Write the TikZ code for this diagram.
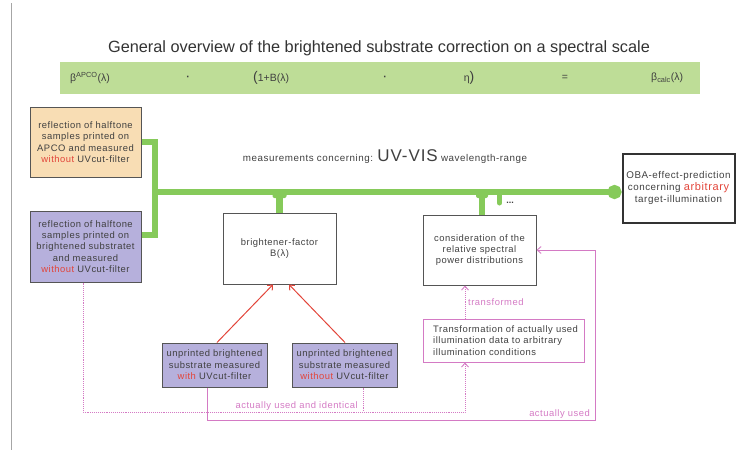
\documentclass[tikz,border=0pt]{standalone}
\usepackage{fontspec}
\setmainfont{Liberation Sans}
\newfontfamily\lsfont{Liberation Sans}[LetterSpace=5.5]
\usetikzlibrary{arrows.meta,calc}
\definecolor{txt}{HTML}{404040}
\definecolor{gbar}{HTML}{BEDD97}
\definecolor{gline}{HTML}{86CA5A}
\definecolor{orfill}{HTML}{F8DDB4}
\definecolor{pufill}{HTML}{B6B0DC}
\definecolor{bord}{HTML}{555555}
\definecolor{pinkc}{HTML}{D47AC4}
\definecolor{redc}{HTML}{E2453A}
\begin{document}
\begin{tikzpicture}[x=1pt,y=-1pt,
  every node/.style={text=txt, font=\lsfont\fontsize{9.4}{11.4}\selectfont, inner sep=0pt},
  box/.style={draw=bord, line width=1pt, align=center},
  gconn/.style={draw=gline, line width=6pt},
  redarr/.style={draw=redc, line width=1pt, -{Straight Barb[length=4pt,width=7pt]}},
  pinkdot/.style={draw=pinkc, line width=0.9pt, densely dotted},
  pinksolid/.style={draw=pinkc, line width=0.9pt},
  ptip/.style={-{Straight Barb[length=4pt,width=7pt]}},
  plabel/.style={text=pinkc, font=\lsfont\fontsize{9.4}{11}\selectfont}]
\useasboundingbox (0,0) rectangle (746,450);
\draw[gray!70, line width=1pt] (11,3) -- (11,450);

\node[font=\fontsize{16.3}{18}\selectfont, text=black!80] (title) at (379,48)
  {General overview of the brightened substrate correction on a spectral scale};

\fill[gbar] (60,62) rectangle (700,94);
\begin{scope}[every node/.style={text=txt, font=\fontsize{10.5}{12}\selectfont, inner sep=0pt}]
\node[anchor=west] (f1) at (70,78) {β\textsuperscript{APCO}(λ)};
\node (f2) at (188,78) {\textbf{·}};
\node[anchor=west] (f3) at (253,78) {{\fontsize{14}{14}\selectfont(}1+B(λ)};
\node (f4) at (385,78) {\textbf{·}};
\node (f5) at (469,78) {η{\fontsize{14}{14}\selectfont)}};
\node (f6) at (565,78) {=};
\node[anchor=west] (f7) at (651,78) {β\textsubscript{calc}(λ)};
\end{scope}

\node[box, fill=orfill, minimum width=111pt, minimum height=70pt] (apco) at (85.5,142)
  {reflection of halftone\\samples printed on\\APCO and measured\\\textcolor{redc}{without} UVcut-filter};
\node[box, fill=pufill, minimum width=111pt, minimum height=71pt] (pur) at (85.5,246.5)
  {reflection of halftone\\samples printed on\\brightened substratet\\and measured\\\textcolor{redc}{without} UVcut-filter};

\node[box, minimum width=113pt, minimum height=71pt] (bf) at (279.5,248.5)
  {brightener-factor\\B(λ)};
\node[box, minimum width=113pt, minimum height=70pt] (cons) at (479.5,250)
  {consideration of the\\relative spectral\\power distributions};
\node[box, draw=black!80, line width=2pt, minimum width=112pt, minimum height=69pt,
  font=\lsfont\fontsize{9.8}{12}\selectfont] (oba) at (678.5,188)
  {OBA-effect-prediction\\concerning \textcolor{redc}{\fontsize{11}{12}\selectfont arbitrary}\\target-illumination};

\node (meas) at (385,157) {\fontsize{9.8}{12}\selectfont measurements concerning: {\fontsize{17}{18}\selectfont UV-VIS} wavelength-range};

\node[box, fill=pufill, minimum width=105pt, minimum height=44pt] (bA) at (214.5,365)
  {unprinted brightened\\substrate measured\\\textcolor{redc}{with} UVcut-filter};
\node[box, fill=pufill, minimum width=105pt, minimum height=44pt] (bB) at (344.5,365)
  {unprinted brightened\\substrate measured\\\textcolor{redc}{without} UVcut-filter};

\node[draw=pinkc, line width=0.9pt, minimum width=161pt, minimum height=43pt] (tr) at (503.5,340.5) {};
\node[anchor=west, align=left] (trtext) at (433,340.5)
  {Transformation of actually used\\illumination data to arbitrary\\illumination conditions};

% green connectors
\coordinate (j1) at (155,142);
\coordinate (j2) at (155,235);
\coordinate (jm) at (155,192);
\draw[gconn] (apco.east) -- (j1) -- (j2) -- (pur.east |- j2);
\draw[gconn, -{Circle[length=14pt]}] (jm) -- (oba.west |- jm);
\draw[gline, line width=7pt] (bf.north) -- (bf.north |- jm);
\fill[gline, rounded corners=2pt] ($(bf.north |- jm)+(-7,-2)$) rectangle ($(bf.north |- jm)+(7,6)$);
\coordinate (cs) at ($(cons.north)+(2.5,0)$);
\draw[gline, line width=6pt] (cs) -- (cs |- jm);
\fill[gline, rounded corners=2pt] ($(cs |- jm)+(-6,-2)$) rectangle ($(cs |- jm)+(6,6)$);
\coordinate (st) at (499.5,192);
\draw[gline, line width=5pt, line cap=round] (st) -- (499.5,203);
\node[font=\bfseries\fontsize{9}{9}\selectfont] (dots) at (510,203) {...};

% red arrows
\draw[redarr] ($(bA.north)+(2.5,0)$) -- ($(bf.south)+(-6.5,0)$);
\draw[redarr] ($(bB.north)+(0.5,0)$) -- ($(bf.south)+(9.5,0)$);

% pink dotted
\coordinate (d1) at (465,412);
\coordinate (d2) at (363,412);
\draw[pinkdot, ptip] ($(pur.south)+(-2.5,0)$) |- (d1) -- (tr.south -| d1);
\draw[pinkdot] (bB.south -| d2) -- (d2);
\node[plabel, anchor=east] (lab1) at (358,406) {actually used and identical};
\draw[pinkdot, ptip] (tr.north -| d1) -- (cons.south -| d1);
\node[plabel, anchor=west] (lab2) at (468,302) {transformed};

% pink solid
\coordinate (s1) at (595,420);
\draw[pinksolid, ptip] ($(bA.south)+(-7.5,0)$) |- (s1) |- (cons.east);
\node[plabel, anchor=east] (lab3) at (590,414) {actually used};
\end{tikzpicture}
\end{document}
